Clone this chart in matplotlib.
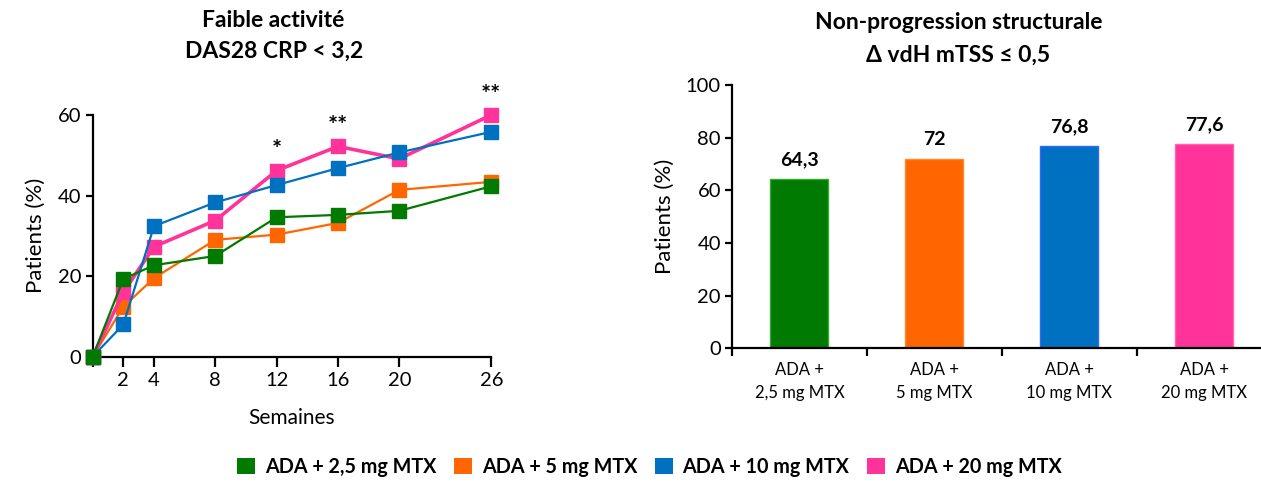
import matplotlib.pyplot as plt
from matplotlib.patches import Patch

plt.rcParams['font.family'] = ['Lato', 'DejaVu Sans']

# Données
semaines = [0, 2, 4, 8, 12, 16, 20, 26]
groupes = ['ADA + 2,5 mg MTX', 'ADA + 5 mg MTX', 'ADA + 10 mg MTX', 'ADA + 20 mg MTX']
couleurs = ['#007A00', '#FF6600', '#0070C0', '#FF3399']

das28_25 = [0, 19.3, 22.7, 25.0, 34.6, 35.2, 36.2, 42.3]
das28_5 = [0, 12.4, 19.5, 29.0, 30.3, 33.2, 41.4, 43.4]
das28_10 = [0, 8.0, 32.4, 38.3, 42.6, 46.8, 50.7, 55.8]
das28_20 = [0, 16.0, 27.3, 33.8, 46.2, 52.2, 49.1, 60.0]

# asterisques sur la courbe 20 mg
signif_semaines = [12, 16, 26]
signif_labels = ['*', '**', '**']

mtss_labels = ['ADA +\n2,5 mg MTX', 'ADA +\n5 mg MTX', 'ADA +\n10 mg MTX', 'ADA +\n20 mg MTX']
mtss_valeurs = [64.3, 72, 76.8, 77.6]
mtss_textes = ['64,3', '72', '76,8', '77,6']

fig = plt.figure(figsize=(12.61, 4.82), dpi=100)

# --- graphique de gauche : courbes
ax1 = fig.add_axes([0.0735, 0.26, 0.3161, 0.5015])
series = [das28_25, das28_5, das28_10, das28_20]
lw = [1.6, 1.6, 1.6, 2.6]
zo = [6, 3, 5, 4]
for vals, c, w, z in zip(series, couleurs, lw, zo):
    ax1.plot(semaines, vals, color=c, lw=w, marker='s', markersize=10,
             clip_on=False, zorder=z)

for s, lab in zip(signif_semaines, signif_labels):
    v = das28_20[semaines.index(s)]
    ax1.annotate(lab, (s, v), xytext=(0, 6), textcoords='offset points',
                 ha='center', va='bottom', fontsize=17, fontweight='bold')

ax1.set_xlim(0, 26)
ax1.set_ylim(0, 60)
ax1.set_xticks(semaines)
ax1.set_xticklabels([''] + [str(s) for s in semaines[1:]])
ax1.set_yticks([0, 20, 40, 60])
for sp in ['top', 'right']:
    ax1.spines[sp].set_visible(False)
for sp in ['left', 'bottom']:
    ax1.spines[sp].set_linewidth(1.6)
ax1.tick_params(axis='x', length=7, width=1.6, labelsize=14.5, pad=4)
ax1.tick_params(axis='y', length=5, width=1.6, labelsize=14.5, pad=3)
ax1.set_ylabel('Patients (%)', fontsize=16, labelpad=9)
ax1.set_xlabel('Semaines', fontsize=15, labelpad=14)
fig.text(0.217, 0.957, 'Faible activité', ha='center', va='center',
         fontsize=16.5, fontweight='bold')
fig.text(0.217, 0.893, 'DAS28 CRP < 3,2', ha='center', va='center',
         fontsize=16.5, fontweight='bold')

# --- graphique de droite : barres
ax2 = fig.add_axes([0.5805, 0.2774, 0.4195, 0.5462])
pos = list(range(len(mtss_valeurs)))
bars = ax2.bar(pos, mtss_valeurs, width=0.43, color=couleurs,
               edgecolor=['#33AA33', '#FF8833', '#3366FF', '#FF66AA'], linewidth=1)
for b, t in zip(bars, mtss_textes):
    ax2.annotate(t, (b.get_x() + b.get_width() / 2, b.get_height()),
                 xytext=(0, 8), textcoords='offset points', ha='center', va='bottom',
                 fontsize=14, fontweight='bold')
ax2.set_xlim(-0.5, 3.42)
ax2.set_ylim(0, 100)
ax2.set_yticks(range(0, 101, 20))
ax2.set_xticks([p - 0.5 for p in pos])
ax2.set_xticklabels([])
ax2.set_xticks(pos, minor=True)
ax2.set_xticklabels(mtss_labels, minor=True, fontsize=12, linespacing=1.5)
ax2.tick_params(axis='x', which='minor', length=0, pad=10)
ax2.tick_params(axis='x', which='major', length=6, width=1.6)
ax2.tick_params(axis='y', length=5, width=1.6, labelsize=14.5, pad=3)
for sp in ['top', 'right']:
    ax2.spines[sp].set_visible(False)
for sp in ['left', 'bottom']:
    ax2.spines[sp].set_linewidth(1.6)
ax2.set_ylabel('Patients (%)', fontsize=16, labelpad=8)
fig.text(0.76, 0.953, 'Non-progression structurale', ha='center', va='center',
         fontsize=16.5, fontweight='bold')
fig.text(0.76, 0.886, 'Δ vdH mTSS ≤ 0,5', ha='center', va='center',
         fontsize=16.5, fontweight='bold')

# --- légende commune
handles = [Patch(facecolor=c, edgecolor='none') for c in couleurs]
fig.legend(handles, groupes, loc='center', bbox_to_anchor=(0.515, 0.031), ncol=4,
           frameon=False, prop={'size': 14.2, 'weight': 'bold'},
           handlelength=0.9, handleheight=0.9, handletextpad=0.5, columnspacing=0.9)

fig.savefig('out.png', dpi=100)
